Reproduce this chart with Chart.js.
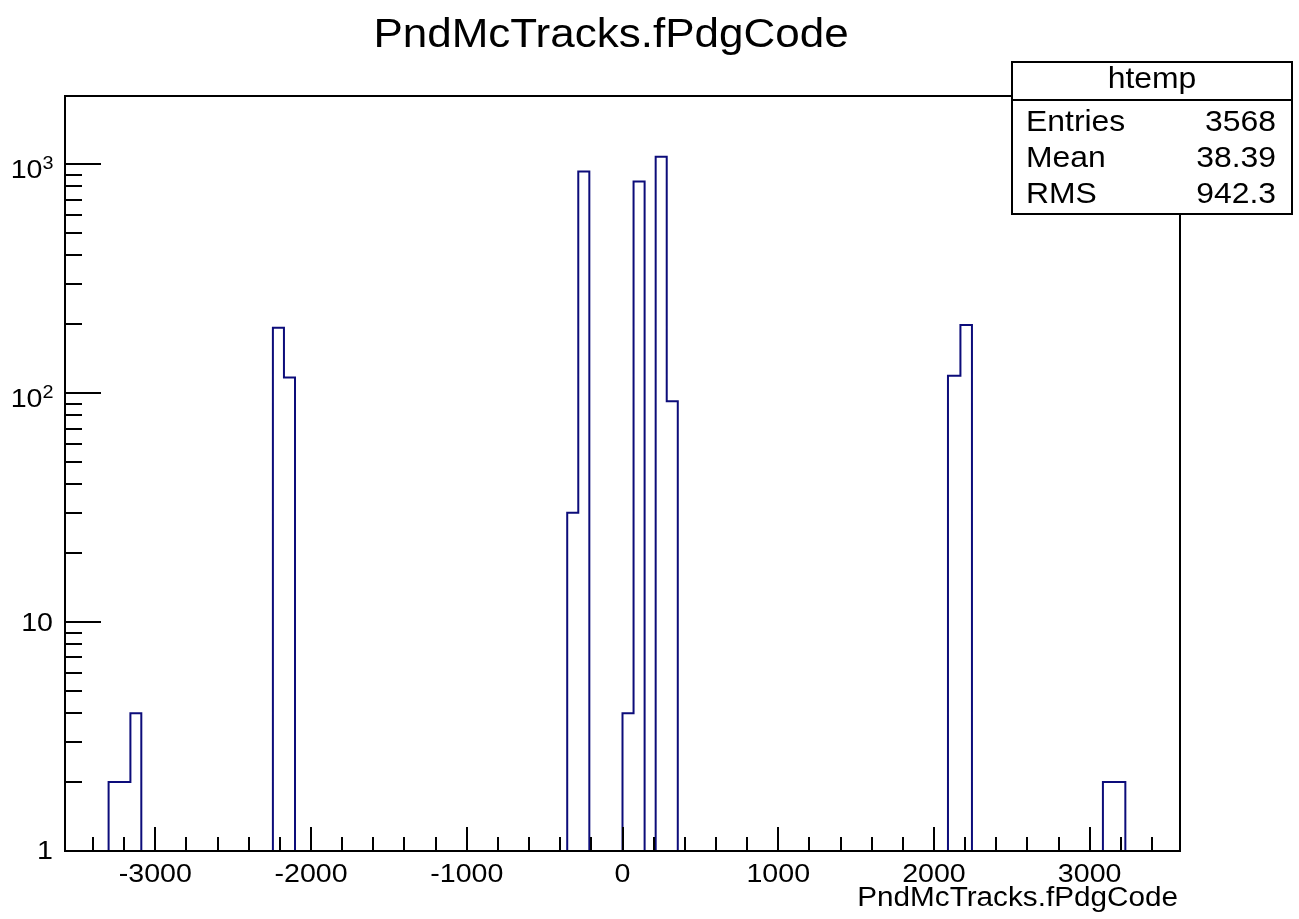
<!DOCTYPE html>
<html>
<head>
<meta charset="utf-8">
<title>PndMcTracks.fPdgCode</title>
<script src="https://cdn.jsdelivr.net/npm/chart.js@4.4.0/dist/chart.umd.min.js"></script>
<style>
  html, body { margin: 0; padding: 0; background: #fff; }
</style>
</head>
<body>
<canvas id="hist" width="1299" height="919"></canvas>
<script>
// filled bins of htemp (empty bins left out)
const binLow  = [-3300, -3230, -3160, -2245, -2174, -355, -284,  0,  71,  213, 284, 2090, 2170, 3085, 3157];
const binHigh = [-3230, -3160, -3090, -2174, -2103, -284, -213, 71, 142,  284, 355, 2170, 2244, 3157, 3229];
const counts  = [    2,     2,     4,   193,   117,   30,  928,  4, 839, 1076,  92,  119,  198,    2,    2];

const xRange = [-3580, 3580];
const yRange = [1, 1983];
const xTicks = [-3400, -3200, -3000, -2800, -2600, -2400, -2200, -2000, -1800, -1600, -1400, -1200, -1000,
                -800, -600, -400, -200, 0, 200, 400, 600, 800, 1000, 1200, 1400, 1600, 1800, 2000,
                2200, 2400, 2600, 2800, 3000, 3200, 3400];
const xLabels = [-3000, -2000, -1000, 0, 1000, 2000, 3000];
const yDecades = [1, 10, 100, 1000];

const statsRows = [['Entries', '3568'], ['Mean', '38.39'], ['RMS', '942.3']];

const FONT = '"Liberation Sans", Arial, Helvetica, sans-serif';
const SX = 1.1; // ROOT glyphs come out a bit wider than Arial

// step outline like ROOT draws it
function outline() {
  const pts = [];
  for (let i = 0; i < counts.length; i++) {
    const joinedPrev = i > 0 && binHigh[i - 1] === binLow[i];
    if (!joinedPrev) pts.push({x: binLow[i], y: yRange[0]});
    pts.push({x: binLow[i], y: counts[i]});
    pts.push({x: binHigh[i], y: counts[i]});
    const joinedNext = i < counts.length - 1 && binLow[i + 1] === binHigh[i];
    if (!joinedNext) pts.push({x: binHigh[i], y: yRange[0]});
  }
  return pts;
}

function text(ctx, str, x, y, size, align) {
  ctx.save();
  ctx.font = size + 'px ' + FONT;
  ctx.textBaseline = 'alphabetic';
  const w = ctx.measureText(str).width * SX;
  let x0 = x;
  if (align === 'center') x0 = x - w / 2;
  else if (align === 'right') x0 = x - w;
  ctx.translate(x0, y);
  ctx.scale(SX, 1);
  ctx.textAlign = 'left';
  ctx.fillText(str, 0, 0);
  ctx.restore();
  return w;
}

const rootFrame = {
  id: 'rootFrame',
  afterDraw(chart) {
    const ctx = chart.ctx;
    const a = chart.chartArea;
    const xs = chart.scales.x, ys = chart.scales.y;
    ctx.save();
    ctx.strokeStyle = '#000';
    ctx.fillStyle = '#000';
    ctx.lineWidth = 2;

    // frame
    ctx.strokeRect(a.left, a.top, a.right - a.left, a.bottom - a.top);

    // x ticks, pointing into the pad
    ctx.beginPath();
    xTicks.forEach(v => {
      const px = Math.round(xs.getPixelForValue(v));
      const len = v % 1000 === 0 ? 24 : 14;
      ctx.moveTo(px, a.bottom);
      ctx.lineTo(px, a.bottom - len);
    });
    // y ticks (log)
    yDecades.forEach(d => {
      for (let m = 1; m <= 9; m++) {
        const v = d * m;
        if (v > yRange[1]) break;
        const py = Math.round(ys.getPixelForValue(v));
        ctx.moveTo(a.left, py);
        ctx.lineTo(a.left + (m === 1 ? 36 : 17), py);
      }
    });
    ctx.stroke();

    // x labels
    xLabels.forEach(v => {
      text(ctx, String(v), xs.getPixelForValue(v), 881.5, 26, 'center');
    });

    // y labels
    yDecades.forEach(d => {
      const py = ys.getPixelForValue(d);
      if (d === 1) text(ctx, '1', 53, py + 7.5, 26, 'right');
      else if (d === 10) text(ctx, '10', 53, py + 9, 26, 'right');
      else {
        const e = String(Math.round(Math.log10(d)));
        const sw = text(ctx, e, 53.5, py + 4.5, 18, 'right');
        text(ctx, '10', 53.5 - sw, py + 14, 26, 'right');
      }
    });

    // title and axis title
    text(ctx, 'PndMcTracks.fPdgCode', 611, 47, 40, 'center');
    text(ctx, 'PndMcTracks.fPdgCode', 1178, 906, 27, 'right');

    // stats box
    const bx = 1012, by = 62, bw = 280, bh = 152;
    ctx.fillStyle = '#fff';
    ctx.fillRect(bx, by, bw, bh);
    ctx.strokeRect(bx, by, bw, bh);
    ctx.beginPath();
    ctx.moveTo(bx, 100);
    ctx.lineTo(bx + bw, 100);
    ctx.stroke();
    ctx.fillStyle = '#000';
    text(ctx, 'htemp', bx + bw / 2, 88, 29, 'center');
    statsRows.forEach((r, i) => {
      const base = 131 + i * 36;
      text(ctx, r[0], 1026, base, 29, 'left');
      text(ctx, r[1], 1276, base, 29, 'right');
    });
    ctx.restore();
  }
};

new Chart(document.getElementById('hist'), {
  type: 'line',
  data: {
    datasets: [{
      label: 'htemp',
      data: outline(),
      borderColor: '#0c0c7a',
      borderWidth: 2,
      pointRadius: 0,
      tension: 0,
      fill: false,
      clip: 4
    }]
  },
  options: {
    responsive: false,
    animation: false,
    devicePixelRatio: 1,
    layout: { padding: { left: 65, top: 96, right: 119, bottom: 68 } },
    plugins: { legend: { display: false }, tooltip: { enabled: false } },
    scales: {
      x: { type: 'linear', min: xRange[0], max: xRange[1], display: false },
      y: { type: 'logarithmic', min: yRange[0], max: yRange[1], display: false }
    }
  },
  plugins: [rootFrame]
});
</script>
</body>
</html>
